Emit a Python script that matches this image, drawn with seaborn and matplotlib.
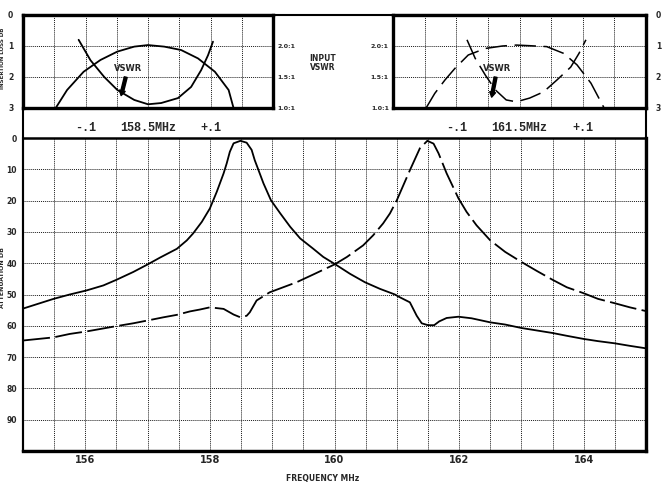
import numpy as np
import pandas as pd
import matplotlib
matplotlib.use("Agg")
import matplotlib.pyplot as plt
import seaborn as sns

# ---------------- data ----------------
# main chart: receive-side (solid) and transmit-side (dashed) attenuation, dB
rx_freq = [155.0, 155.49, 155.75, 156.02, 156.29, 156.5, 156.77, 157.0, 157.2, 157.47,
           157.63, 157.73, 157.87, 158.0, 158.11, 158.22, 158.27, 158.32, 158.38, 158.49,
           158.59, 158.67, 158.72, 158.76, 158.86, 158.98, 159.13, 159.29, 159.45, 159.66,
           159.82, 160.0, 160.25, 160.49, 160.73, 160.97, 161.05, 161.21, 161.32, 161.4,
           161.5, 161.6, 161.68, 161.8, 161.99, 162.2, 162.5, 162.74, 163.0, 163.25,
           163.5, 163.73, 164.0, 164.23, 164.5, 164.74, 165.0]
rx_att = [54.5, 51.4, 50.0, 48.7, 47.1, 45.3, 42.8, 40.4, 38.2, 35.4,
          32.7, 30.5, 26.8, 22.5, 17.2, 11.3, 8.1, 4.4, 1.7, 0.9,
          1.5, 3.8, 7.1, 9.2, 14.5, 19.9, 24.1, 28.4, 32.1, 35.4,
          38.0, 40.2, 43.4, 46.1, 48.2, 50.0, 50.9, 52.5, 56.8, 59.2,
          59.8, 59.8, 58.6, 57.5, 57.1, 57.6, 58.9, 59.6, 60.7, 61.5,
          62.3, 63.2, 64.2, 64.9, 65.6, 66.4, 67.2]

tx_freq = [155.0, 155.49, 155.75, 156.02, 156.5, 156.77, 157.0, 157.25, 157.47, 157.68,
           157.84, 158.0, 158.22, 158.38, 158.49, 158.59, 158.64, 158.75, 158.96, 159.39,
           159.66, 160.0, 160.2, 160.46, 160.62, 160.78, 160.89, 161.0, 161.21, 161.37,
           161.49, 161.59, 161.67, 161.8, 161.99, 162.12, 162.28, 162.5, 162.74, 163.0,
           163.25, 163.5, 163.73, 164.0, 164.23, 164.5, 164.74, 165.0]
tx_att = [64.7, 63.7, 62.6, 61.8, 60.1, 59.2, 58.3, 57.3, 56.5, 55.4,
          54.8, 54.1, 54.6, 56.4, 57.3, 56.8, 55.7, 51.9, 49.3, 46.1,
          43.6, 40.4, 38.0, 34.3, 31.1, 27.3, 24.1, 19.9, 10.3, 3.3,
          0.9, 1.8, 4.9, 11.3, 19.3, 23.6, 27.9, 32.7, 36.4, 39.6,
          42.5, 45.3, 47.7, 49.6, 51.4, 52.8, 54.1, 55.3]

main_xticks = [156, 158, 160, 162, 164]
main_yticks = [0, 10, 20, 30, 40, 50, 60, 70, 80, 90]

# left inset (158.5 MHz): offset MHz, loss dB, VSWR
l_loss_off = [-0.148, -0.1295, -0.103, -0.076, -0.049, -0.022, 0.0, 0.026, 0.053, 0.080, 0.107, 0.129, 0.137]
l_loss = [3.01, 2.42, 1.83, 1.45, 1.18, 1.02, 0.97, 1.02, 1.13, 1.40, 1.83, 2.42, 3.01]
l_vswr_off = [-0.111, -0.092, -0.070, -0.049, -0.022, 0.0, 0.021, 0.048, 0.069, 0.085, 0.096, 0.104]
l_vswr = [2.10, 1.77, 1.50, 1.29, 1.13, 1.06, 1.08, 1.16, 1.34, 1.61, 1.85, 2.07]

# right inset (161.5 MHz)
r_loss_off = [-0.148, -0.134, -0.118, -0.102, -0.081, -0.054, -0.027, -0.005, 0.016, 0.043, 0.070, 0.091, 0.113, 0.134]
r_loss = [3.01, 2.53, 2.10, 1.72, 1.29, 1.08, 1.00, 0.97, 0.99, 1.02, 1.24, 1.61, 2.20, 3.01]
r_vswr_off = [-0.083, -0.070, -0.054, -0.038, -0.021, -0.005, 0.016, 0.038, 0.059, 0.081, 0.094, 0.105]
r_vswr = [2.10, 1.80, 1.53, 1.29, 1.13, 1.10, 1.16, 1.26, 1.45, 1.66, 1.88, 2.10]

inset_yticks = [0, 1, 2, 3]
vswr_ticks = [1.0, 1.5, 2.0]
vswr_labels = ["1.0:1", "1.5:1", "2.0:1"]
left_center_label = "158.5MHz"
right_center_label = "161.5MHz"

# ---------------- style ----------------
sns.set_theme(style="white")
plt.rcParams['font.family'] = ['DejaVu Sans']
W, H = 665, 491
fig = plt.figure(figsize=(W / 100, H / 100), dpi=100)


def fa(l, t, r, b):
    return [l / W, 1 - b / H, (r - l) / W, (b - t) / H]


GRID = dict(color="#1a1a1a", linewidth=0.7, linestyle=(0, (1, 1)))
SOLID = dict(color="black", linewidth=1.3)
DASHED = dict(color="black", linewidth=1.3, linestyle=(0, (15, 3)))
DASHED_IN = dict(color="black", linewidth=1.1, linestyle=(0, (14, 5)))

# outer frame
bg = fig.add_axes(fa(23, 15, 646, 451))
bg.set_xticks([]); bg.set_yticks([])
for s in bg.spines.values():
    s.set_linewidth(1.5); s.set_color("black")
bg.patch.set_alpha(0)

# ---------------- main chart ----------------
ax = fig.add_axes(fa(23, 138, 646, 451))
ax.patch.set_alpha(0)
df_rx = pd.DataFrame({"freq": rx_freq, "att": rx_att})
df_tx = pd.DataFrame({"freq": tx_freq, "att": tx_att})
sns.lineplot(data=df_rx, x="freq", y="att", ax=ax, sort=False, estimator=None, **SOLID)
sns.lineplot(data=df_tx, x="freq", y="att", ax=ax, sort=False, estimator=None, **DASHED)
ax.set_xlim(155, 165)
ax.set_ylim(100, 0)
ax.set_xticks(main_xticks)
ax.set_xticklabels([str(v) for v in main_xticks], fontsize=7, fontweight="bold")
ax.set_xticks(np.arange(155, 165.01, 0.5), minor=True)
ax.set_yticks(main_yticks)
ax.set_yticklabels([str(v) for v in main_yticks], fontsize=5.5, fontweight="bold")
ax.set_yticks(np.arange(0, 100.1, 10), minor=True)
ax.grid(True, which="both", **GRID)
ax.tick_params(which="both", length=0)
ax.tick_params(axis="x", pad=3)
ax.tick_params(axis="y", pad=4.5)
ax.set_xlabel(""); ax.set_ylabel("")
for k, lw in {"left": 1.5, "top": 1.8, "right": 2.4, "bottom": 2.4}.items():
    ax.spines[k].set_linewidth(lw); ax.spines[k].set_color("black")


# ---------------- insets ----------------
def make_inset(rect, loss_off, loss, vswr_off, vswr, center_label, loss_style, vswr_style, right):
    a = fig.add_axes(rect)
    a.set_xlim(-0.2, 0.2)
    a.set_ylim(3, 0)
    d1 = pd.DataFrame({"off": loss_off, "loss": loss})
    sns.lineplot(data=d1, x="off", y="loss", ax=a, sort=False, estimator=None, **loss_style)
    a.set_xticks([-0.1, 0.0, 0.1])
    a.set_xticklabels(["-.1", center_label, "+.1"], fontsize=8.5, family="Liberation Mono",
                      fontweight="bold")
    a.set_xticks(np.arange(-0.2, 0.201, 0.05), minor=True)
    a.set_yticks(inset_yticks)
    a.set_yticklabels([str(v) for v in inset_yticks], fontsize=5.5, fontweight="bold")
    a.grid(True, which="both", **GRID)
    a.tick_params(which="both", length=0)
    a.tick_params(axis="x", pad=10)
    a.tick_params(axis="y", pad=7)
    a.set_xlabel(""); a.set_ylabel("")
    for s in a.spines.values():
        s.set_linewidth(2.4); s.set_color("black")

    v = a.twinx()
    d2 = pd.DataFrame({"off": vswr_off, "vswr": vswr})
    sns.lineplot(data=d2, x="off", y="vswr", ax=v, sort=False, estimator=None, **vswr_style)
    v.set_ylim(1.0, 2.5)
    v.set_yticks(vswr_ticks)
    v.set_yticklabels(vswr_labels, fontsize=4.5, fontweight="bold")
    v.tick_params(length=0, pad=3)
    v.set_ylabel("")
    v.grid(False)
    for s in v.spines.values():
        s.set_visible(False)
    if right:
        a.yaxis.tick_right()
        v.yaxis.tick_left()
    return a, v


aL, vL = make_inset(fa(23, 15, 273, 108), l_loss_off, l_loss, l_vswr_off, l_vswr,
                    left_center_label, SOLID, SOLID, right=False)
aR, vR = make_inset(fa(393, 15, 646, 108), r_loss_off, r_loss, r_vswr_off, r_vswr,
                    right_center_label, DASHED_IN, DASHED_IN, right=True)

arrow = dict(arrowstyle="simple,head_width=0.7,head_length=0.6,tail_width=0.35",
             color="black", shrinkA=1, shrinkB=0)
aL.annotate("VSWR", xy=(-0.043, 2.6), xytext=(-0.032, 1.71), fontsize=6, fontweight="bold",
            ha="center", va="center", arrowprops=arrow, zorder=5)
aR.annotate("VSWR", xy=(-0.044, 2.65), xytext=(-0.035, 1.71), fontsize=6, fontweight="bold",
            ha="center", va="center", arrowprops=arrow, zorder=5)

# ---------------- free text ----------------
fig.text(323 / W, 1 - 63 / H, "INPUT\nVSWR", fontsize=5.5, fontweight="bold",
         ha="center", va="center", linespacing=1.0)
fig.text(323 / W, 1 - 479 / H, "FREQUENCY MHz", fontsize=5.5, fontweight="bold",
         ha="center", va="center")
fig.text(0.5 / W, 1 - 277 / H, "ATTENUATION DB", fontsize=4.5, fontweight="bold",
         rotation=90, ha="left", va="center")
fig.text(0.5 / W, 1 - 58 / H, "INSERTION LOSS DB", fontsize=4, fontweight="bold",
         rotation=90, ha="left", va="center")

fig.savefig("out.png", dpi=100, facecolor="white")
